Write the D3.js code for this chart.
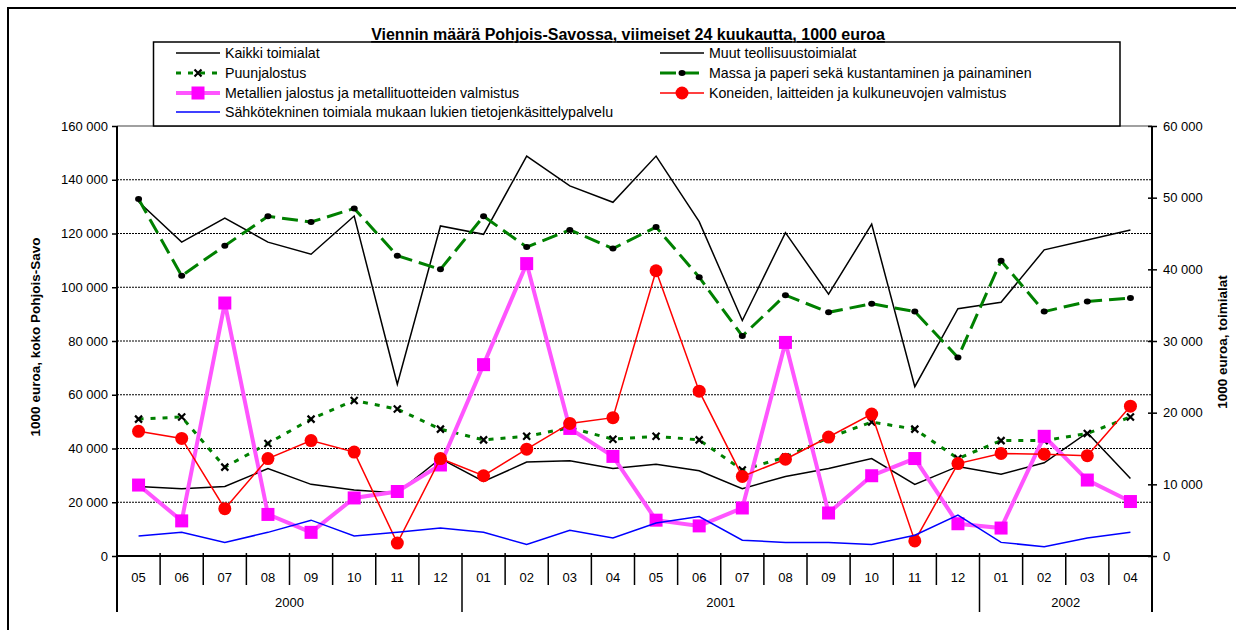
<!DOCTYPE html>
<html><head><meta charset="utf-8">
<script src="https://cdn.jsdelivr.net/npm/d3@7"></script>
<style>
body{margin:0;background:#fff;}
svg{font-family:"Liberation Sans",Arial,sans-serif;}
</style></head><body>
<svg id="c" width="1236" height="630"></svg>
<script>
const months = ["05","06","07","08","09","10","11","12","01","02","03","04","05","06","07","08","09","10","11","12","01","02","03","04"];
const years = [{label:"2000", from:0, to:8},{label:"2001", from:8, to:20},{label:"2002", from:20, to:24}];
const leftTicks = [0,20000,40000,60000,80000,100000,120000,140000,160000];
const rightTicks = [0,10000,20000,30000,40000,50000,60000];

// left axis
const kaikki = [131800,116800,125700,116800,112300,126500,63900,122800,119700,148800,137700,131600,148800,124400,87600,120300,97400,123500,63000,92000,94400,113900,117600,121300];
// right axis
const muut = [9700,9400,9700,12200,10000,9200,8800,13600,10400,13100,13300,12200,12800,11900,9400,11100,12200,13600,10000,12500,11400,13000,17200,10800];
const puu = [19100,19400,12400,15700,19100,21700,20500,17700,16200,16700,17900,16300,16700,16200,12000,13800,16500,18700,17700,13600,16100,16100,17100,19400];
const massa = [49800,39100,43300,47400,46600,48500,41900,40000,47400,43100,45500,42900,45900,38900,30700,36400,34000,35200,34100,27700,41200,34100,35500,36000];
const metalli = [9900,4900,35300,5800,3300,8100,9000,12700,26700,40800,17800,13900,5000,4200,6700,29800,6000,11200,13600,4500,3900,16700,10600,7600];
const koneet = [17400,16400,6600,13600,16100,14500,1800,13600,11200,14900,18500,19300,39800,23000,11100,13500,16600,19800,2100,12900,14300,14200,14000,20900];
const sahko = [2800,3300,1900,3300,5000,2800,3300,3900,3300,1600,3600,2500,4600,5500,2200,1900,1900,1600,2900,5700,1900,1300,2500,3300];

const svg = d3.select("#c");
const X0 = 117, X1 = 1152, YT = 126, YB = 556;
const x = d3.scaleBand().domain(d3.range(24)).range([X0, X1]).paddingInner(0).paddingOuter(0);
const cx = i => x(i) + x.bandwidth()/2;
const yL = d3.scaleLinear().domain([0,160000]).range([YB, YT]);
const yR = d3.scaleLinear().domain([0,60000]).range([YB, YT]);
const fmt = v => d3.format(",")(v).replace(/,/g, " ");

// outer frame
svg.append("rect").attr("x",8).attr("y",8).attr("width",1240).attr("height",640)
  .attr("fill","none").attr("stroke","#000").attr("stroke-width",2);

// gridlines
svg.append("g").selectAll("line").data(leftTicks.filter(v=>v>0 && v<160000)).join("line")
  .attr("x1",X0).attr("x2",X1).attr("y1",d=>yL(d)).attr("y2",d=>yL(d))
  .attr("stroke","#000").attr("stroke-width",1).attr("stroke-dasharray","2,1");
// plot top border
svg.append("line").attr("x1",X0).attr("x2",X1).attr("y1",YT).attr("y2",YT).attr("stroke","#808080").attr("stroke-width",1.5);

// left axis
const gl = svg.append("g").attr("transform",`translate(${X0},0)`)
  .call(d3.axisLeft(yL).tickValues(leftTicks).tickFormat(fmt).tickSize(5).tickPadding(4));
gl.select(".domain").remove();
gl.selectAll("text").attr("font-size",13).attr("font-family","Liberation Sans, Arial").attr("fill","#000");
gl.selectAll("line").attr("stroke","#000").attr("stroke-width",1.5);
svg.append("line").attr("x1",X0).attr("x2",X0).attr("y1",YT).attr("y2",612).attr("stroke","#000").attr("stroke-width",2);

// right axis
const gr = svg.append("g").attr("transform",`translate(${X1},0)`)
  .call(d3.axisRight(yR).tickValues(rightTicks).tickFormat(fmt).tickSize(5).tickPadding(6));
gr.select(".domain").remove();
gr.selectAll("text").attr("font-size",13).attr("font-family","Liberation Sans, Arial").attr("fill","#000");
gr.selectAll("line").attr("x1",-4).attr("stroke","#000").attr("stroke-width",1.5);
svg.append("line").attr("x1",X1).attr("x2",X1).attr("y1",YT).attr("y2",612).attr("stroke","#000").attr("stroke-width",2);

// category axis
svg.append("line").attr("x1",X0).attr("x2",X1).attr("y1",YB).attr("y2",YB).attr("stroke","#000").attr("stroke-width",2);
const bounds = d3.range(1,24);
svg.append("g").selectAll("line").data(bounds).join("line")
  .attr("x1",d=>x(d)).attr("x2",d=>x(d)).attr("y1",YB-3).attr("y2",d=>years.some(y=>y.from===d)?612:585)
  .attr("stroke","#000").attr("stroke-width",1.5);
svg.append("g").selectAll("text").data(months).join("text")
  .attr("x",(d,i)=>cx(i)).attr("y",581.5).attr("text-anchor","middle").attr("font-size",13).text(d=>d);
svg.append("g").selectAll("text").data(years).join("text")
  .attr("x",d=>(x(d.from)+(d.to<24?x(d.to):X1))/2).attr("y",606.5).attr("text-anchor","middle").attr("font-size",13).text(d=>d.label);

// axis titles
svg.append("text").attr("transform","translate(40,337) rotate(-90)").attr("text-anchor","middle")
  .attr("font-size",13.5).attr("font-weight","bold").text("1000 euroa, koko Pohjois-Savo");
svg.append("text").attr("transform","translate(1227,342) rotate(-90)").attr("text-anchor","middle")
  .attr("font-size",13.5).attr("font-weight","bold").text("1000 euroa, toimialat");

// series
const series = [
  {name:"Kaikki toimialat", data:kaikki, y:yL, color:"#000", w:1.5, dash:null, marker:null},
  {name:"Muut teollisuustoimialat", data:muut, y:yR, color:"#000", w:1.5, dash:null, marker:null},
  {name:"Puunjalostus", data:puu, y:yR, color:"#008000", w:3, dash:"5,7", marker:"x"},
  {name:"Massa ja paperi sekä kustantaminen ja painaminen", data:massa, y:yR, color:"#008000", w:3, dash:"16,7", marker:"dot"},
  {name:"Metallien jalostus ja metallituotteiden valmistus", data:metalli, y:yR, color:"#ff55ff", w:4, dash:null, marker:"square"},
  {name:"Koneiden, laitteiden ja kulkuneuvojen valmistus", data:koneet, y:yR, color:"#ff0000", w:1.5, dash:null, marker:"circle"},
  {name:"Sähkötekninen toimiala mukaan lukien tietojenkäsittelypalvelu", data:sahko, y:yR, color:"#0000ff", w:1.5, dash:null, marker:null}
];

function drawMarker(g, type, px, py){
  if(type==="x"){
    g.append("path").attr("d",`M${px-3.5},${py-3.5}L${px+3.5},${py+3.5}M${px+3.5},${py-3.5}L${px-3.5},${py+3.5}`)
      .attr("stroke","#000").attr("stroke-width",2.2).attr("fill","none");
  } else if(type==="dot"){
    g.append("ellipse").attr("cx",px).attr("cy",py).attr("rx",3.5).attr("ry",3).attr("fill","#000");
  } else if(type==="square"){
    g.append("rect").attr("x",px-6.5).attr("y",py-6.5).attr("width",13).attr("height",13).attr("fill","#ff00ff");
  } else if(type==="circle"){
    g.append("circle").attr("cx",px).attr("cy",py).attr("r",6.5).attr("fill","#ff0000");
  }
}

series.forEach(s=>{
  const g = svg.append("g");
  const line = d3.line().x((d,i)=>cx(i)).y(d=>s.y(d));
  g.append("path").attr("d",line(s.data)).attr("fill","none").attr("stroke",s.color)
    .attr("stroke-width",s.w).attr("stroke-dasharray",s.dash).attr("stroke-linejoin","miter");
  if(s.marker) s.data.forEach((d,i)=>drawMarker(g,s.marker,cx(i),s.y(d)));
});

// legend
svg.append("rect").attr("x",153.5).attr("y",42).attr("width",966.5).attr("height",84)
  .attr("fill","#fff").attr("stroke","#000").attr("stroke-width",1.5);
const legPos = [
  [176,53],[660,53],[176,73],[660,73],[176,93],[660,93],[176,112]
];
const legOrder = [0,1,2,3,4,5,6];
legOrder.forEach((si,k)=>{
  const s = series[si]; const [lx,ly] = legPos[k];
  const g = svg.append("g");
  g.append("line").attr("x1",lx).attr("x2",lx+44).attr("y1",ly).attr("y2",ly)
    .attr("stroke",s.color).attr("stroke-width",s.w).attr("stroke-dasharray",s.dash);
  if(s.marker) drawMarker(g,s.marker,lx+22,ly);
  g.append("text").attr("x",lx+49).attr("y",ly+5).attr("font-size",14.2).text(s.name);
});

// title
svg.append("text").attr("x",628).attr("y",40).attr("text-anchor","middle").attr("font-size",16)
  .attr("font-weight","bold").attr("text-decoration","underline").text("Viennin määrä Pohjois-Savossa, viimeiset 24 kuukautta, 1000 euroa");
</script></body></html>
